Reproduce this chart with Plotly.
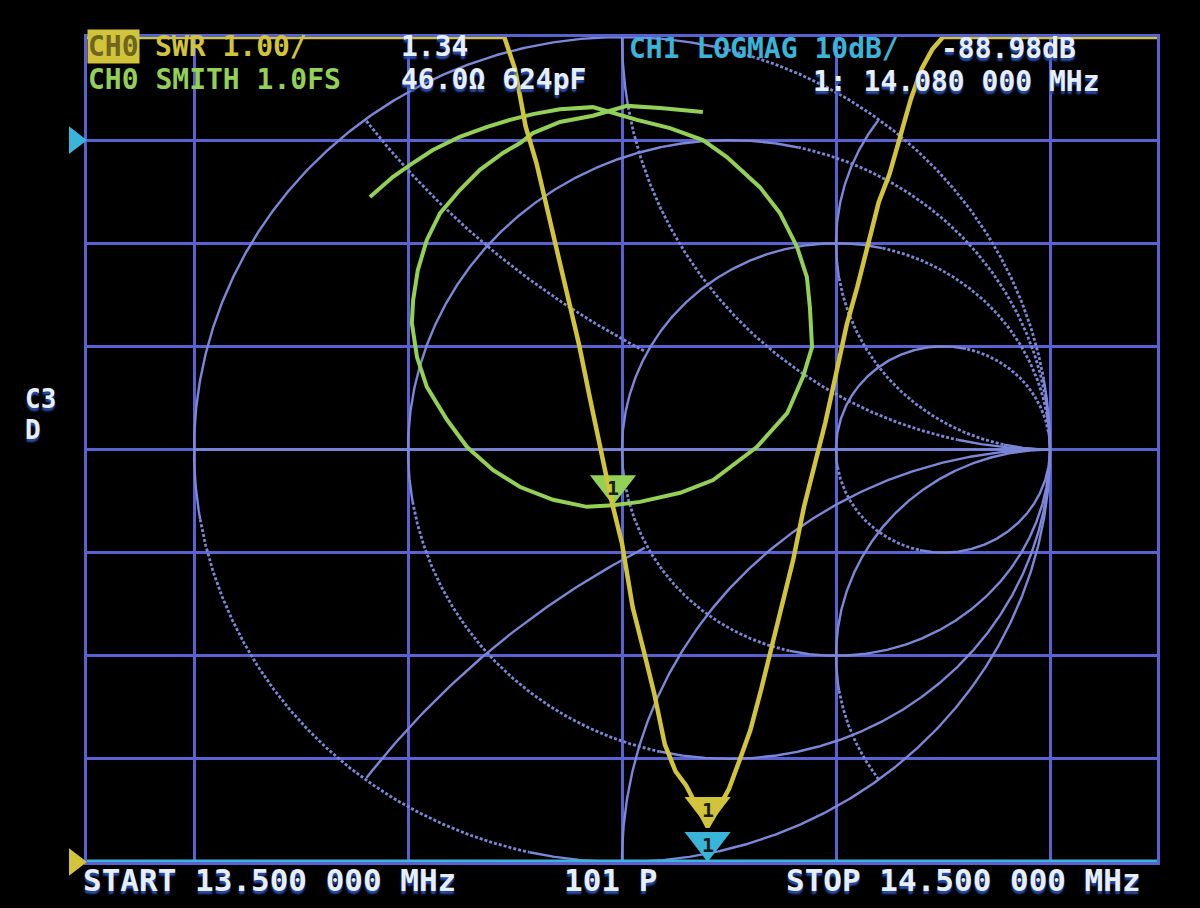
import numpy as np
import plotly.graph_objects as go

# ---------------- data ----------------
# CH0 SWR trace (1.00 / div, bottom = 1.0, top = 9.0, values >= 9 sit on the top edge)
swr_freq_mhz = [13.50, 13.89, 13.90, 13.91, 13.92, 13.93, 13.94, 13.95, 13.96, 13.97,
                13.98, 13.99, 14.00, 14.01, 14.02, 14.03, 14.04, 14.05, 14.06, 14.07,
                14.08, 14.09, 14.10, 14.11, 14.12, 14.13, 14.14, 14.15, 14.16, 14.17,
                14.18, 14.19, 14.20, 14.21, 14.22, 14.23, 14.24, 14.25, 14.26, 14.27,
                14.28, 14.29, 14.30, 14.50]
swr_value = [9.00, 9.00, 8.69, 8.13, 7.78, 7.33, 6.90, 6.46, 6.01, 5.50,
             5.00, 4.51, 4.09, 3.47, 3.06, 2.64, 2.14, 1.88, 1.74, 1.54,
             1.34, 1.52, 1.71, 1.99, 2.28, 2.67, 3.09, 3.50, 3.93, 4.44,
             4.85, 5.26, 5.73, 6.21, 6.58, 6.98, 7.40, 7.67, 8.02, 8.40,
             8.69, 8.88, 9.00, 9.00]

# CH0 SMITH trace, reflection coefficient (real, imaginary)
smith_re = [-0.589, -0.535, -0.495, -0.442, -0.379, -0.315, -0.262, -0.208, -0.145, -0.068,
            0.035, 0.112, 0.189, 0.245, 0.322, 0.369, 0.409, 0.432, 0.439, 0.444,
            0.423, 0.386, 0.315, 0.213, 0.136, 0.042, -0.021, -0.082, -0.161, -0.238,
            -0.301, -0.362, -0.409, -0.456, -0.479, -0.491, -0.488, -0.477, -0.456, -0.425,
            -0.379, -0.332, -0.278, -0.238, -0.208, -0.145, -0.068, 0.012, 0.089, 0.189]
smith_im = [0.612, 0.661, 0.690, 0.726, 0.758, 0.782, 0.799, 0.813, 0.825, 0.830,
            0.799, 0.779, 0.750, 0.709, 0.636, 0.573, 0.491, 0.418, 0.345, 0.248,
            0.176, 0.088, 0.006, -0.074, -0.105, -0.127, -0.135, -0.139, -0.122, -0.091,
            -0.050, 0.006, 0.072, 0.152, 0.224, 0.307, 0.362, 0.435, 0.508, 0.573,
            0.629, 0.678, 0.719, 0.743, 0.767, 0.794, 0.809, 0.833, 0.828, 0.818]
smith_marker_index = 26

# CH1 LOGMAG trace (10 dB / div, ref 0 dB at 7th division) - pinned at the bottom edge
ch1_freq_mhz = [13.50, 14.50]
ch1_logmag_db = [-70.0, -70.0]

marker_freq_mhz = 14.08
marker_swr = 1.34
marker_ch1_db = -88.98

grid_freq_mhz = [13.6, 13.8, 14.0, 14.2, 14.4]

# text
txt_ch0a = "SWR 1.00/"
txt_ch0a_val = "1.34"
txt_ch0b = "CH0 SMITH 1.0FS"
txt_ch0b_val = "46.0Ω 624pF"
txt_ch1 = "CH1 LOGMAG 10dB/"
txt_ch1_val = "-88.98dB"
txt_mk = "1: 14.080 000 MHz"
txt_start = "START 13.500 000 MHz"
txt_points = "101 P"
txt_stop = "STOP 14.500 000 MHz"

# ---------------- styles ----------------
W, H = 1200, 908
L, R, T, B = 87, 43, 37, 46
GRID = "#5862d0"
SMITH = "#7c87d8"
YEL = "#d2c43a"
GRN = "#92d056"
CYA = "#3ab4d8"
WHT = "#e6eef8"
FONT = "DejaVu Sans Mono"
PX_X, PX_Y = 428.0, 412.5   # pixels per unit of reflection coefficient (screen aspect)

fig = go.Figure()

# empty main subplot (carries the rectangular grid)
fig.add_trace(go.Scatter(x=[], y=[], xaxis="x", yaxis="y", hoverinfo="skip"))

# ---- Smith chart grid (geometry of the chart itself) ----
def circle(cx, cy, rad, keep=None, n=1441):
    t = np.linspace(0, 2 * np.pi, n)
    xs = cx + rad * np.cos(t)
    ys = cy + rad * np.sin(t)
    if keep is not None:
        m = keep(xs, ys)
        xs = np.where(m, xs, np.nan)
        ys = np.where(m, ys, np.nan)
    return xs, ys

inside = lambda x, y: x ** 2 + y ** 2 <= 1.0 + 1e-9
out_r1 = lambda x, y: (x - 0.5) ** 2 + y ** 2 >= 0.5 ** 2 - 1e-9

curves = [circle(0, 0, 1), circle(0.75, 0, 0.25), circle(0.5, 0, 0.5), circle(0.25, 0, 0.75)]
for s in (1, -1):
    curves += [circle(1, s * 0.5, 0.5, inside),
               circle(1, s * 1.0, 1.0, inside),
               circle(1, s * 2.0, 2.0, lambda x, y: inside(x, y) & out_r1(x, y))]

# the LCD photo shows falling ("\") strokes broken into dots, rising ones solid
solid_x, solid_y, dot_x, dot_y = [-1, 1, None], [0, 0, None], [], []
def push(bx, by, x0, y0, x1, y1):
    if bx and bx[-1] is not None and bx[-1] == x0 and by[-1] == y0:
        bx.append(x1); by.append(y1)
    else:
        bx += [None, x0, x1]; by += [None, y0, y1]

for xs, ys in curves:
    for i in range(len(xs) - 1):
        x0, y0, x1, y1 = xs[i], ys[i], xs[i + 1], ys[i + 1]
        if np.isnan([x0, y0, x1, y1]).any():
            continue
        dx, dy = (x1 - x0) * PX_X, (y1 - y0) * PX_Y
        ang = np.degrees(np.arctan2(abs(dy), abs(dx)))
        falling = dx * dy < 0 and 12 < ang < 80
        if falling:
            push(dot_x, dot_y, float(x0), float(y0), float(x1), float(y1))
        else:
            push(solid_x, solid_y, float(x0), float(y0), float(x1), float(y1))

fig.add_trace(go.Scatter(x=solid_x, y=solid_y, xaxis="x2", yaxis="y2", mode="lines",
                         line=dict(color=SMITH, width=2.4), cliponaxis=False,
                         hoverinfo="skip", connectgaps=False))
fig.add_trace(go.Scatter(x=dot_x, y=dot_y, xaxis="x2", yaxis="y2", mode="lines",
                         line=dict(color=SMITH, width=2.8, dash="3px,2px"), cliponaxis=False,
                         hoverinfo="skip", connectgaps=False))

# ---- CH0 Smith trace ----
fig.add_trace(go.Scatter(x=smith_re, y=smith_im, xaxis="x2", yaxis="y2", mode="lines",
                         line=dict(color=GRN, width=4), cliponaxis=False, hoverinfo="skip"))

# ---- CH1 logmag trace ----
fig.add_trace(go.Scatter(x=ch1_freq_mhz, y=ch1_logmag_db, xaxis="x3", yaxis="y3", mode="lines",
                         line=dict(color=CYA, width=5), cliponaxis=False, hoverinfo="skip"))

# ---- CH0 SWR trace ----
fig.add_trace(go.Scatter(x=swr_freq_mhz, y=swr_value, xaxis="x4", yaxis="y4", mode="lines",
                         line=dict(color=YEL, width=4.5), cliponaxis=False, hoverinfo="skip"))

# ---- markers ----
MS = 40
def mk(x, y, xa, ya, color):
    fig.add_trace(go.Scatter(x=[x], y=[y], xaxis=xa, yaxis=ya, mode="markers",
                             marker=dict(symbol="triangle-up", angle=180, standoff=MS / 2,
                                         size=MS, color=color, line=dict(width=0)),
                             cliponaxis=False, hoverinfo="skip"))

ch1_floor = max(marker_ch1_db, -70.0)
mk(smith_re[smith_marker_index], smith_im[smith_marker_index], "x2", "y2", GRN)
mk(marker_freq_mhz, ch1_floor, "x3", "y3", CYA)
mk(marker_freq_mhz, marker_swr, "x4", "y4", YEL)

# reference-position markers on the left edge
RS = 24
fig.add_trace(go.Scatter(x=[ch1_freq_mhz[0]], y=[0.0], xaxis="x3", yaxis="y3", mode="markers",
                         marker=dict(symbol="triangle-up", angle=90, standoff=RS / 2, size=RS,
                                     color=CYA, line=dict(width=0)),
                         cliponaxis=False, hoverinfo="skip"))
fig.add_trace(go.Scatter(x=[swr_freq_mhz[0]], y=[1.0], xaxis="x4", yaxis="y4", mode="markers",
                         marker=dict(symbol="triangle-up", angle=90, standoff=RS / 2, size=RS,
                                     color=YEL, line=dict(width=0)),
                         cliponaxis=False, hoverinfo="skip"))

annotations = []
def mk_label(x, y, xa, ya):
    annotations.append(dict(x=x, y=y, xref=xa, yref=ya, text="<b>1</b>", showarrow=False,
                            yshift=MS * 0.42, font=dict(family=FONT, size=20, color="#1a1a10")))
mk_label(smith_re[smith_marker_index], smith_im[smith_marker_index], "x2", "y2")
mk_label(marker_freq_mhz, ch1_floor, "x3", "y3")
mk_label(marker_freq_mhz, marker_swr, "x4", "y4")

# ---- screen texts (positions in pixels -> paper) ----
def txt(px, py, s, color, bg=None, shadow=True, size=28):
    d = dict(x=(px - L) / (W - L - R), y=(H - B - py) / (H - T - B), xref="paper", yref="paper",
             xanchor="left", yanchor="middle", text=s, showarrow=False, borderpad=0,
             font=dict(family=FONT, size=size, color=color, weight="bold",
                       shadow="0px 3px 2px #2b4fb0" if shadow else "none"))
    if bg:
        d["bgcolor"] = bg
    annotations.append(d)

CW = 0.602 * 28
txt(87, 47, "CH0", "#6d6520", bg=YEL, shadow=False)
txt(87 + 4 * CW, 47, txt_ch0a, YEL, shadow=False)
txt(400, 47, txt_ch0a_val, WHT)
txt(87, 79, txt_ch0b, GRN, shadow=False)
txt(400, 79, txt_ch0b_val, WHT)
txt(628, 49, txt_ch1, CYA, shadow=False)
txt(940, 49, txt_ch1_val, WHT)
txt(812, 81, txt_mk, WHT)
txt(82, 880, txt_start, WHT, size=31)
txt(563, 880, txt_points, WHT, size=31)
txt(785, 880, txt_stop, WHT, size=31)
txt(24, 399, "C3", WHT, size=26)
txt(24, 430, "D", WHT, size=26)

axis_common = dict(showgrid=True, gridcolor=GRID, gridwidth=3, showticklabels=False, ticks="",
                   zeroline=False, showline=True, linecolor=GRID, linewidth=3, mirror=True,
                   fixedrange=True, layer="below traces")
hidden = dict(visible=False, fixedrange=True, showgrid=False, zeroline=False)

fig.update_layout(
    width=W, height=H, autosize=False,
    margin=dict(l=L, r=R, t=T, b=B, pad=0),
    paper_bgcolor="black", plot_bgcolor="black", showlegend=False,
    xaxis=dict(range=[swr_freq_mhz[0], swr_freq_mhz[-1]], tickmode="array", tickvals=grid_freq_mhz,
               **axis_common),
    yaxis=dict(range=[1, 9], tickmode="linear", tick0=1, dtick=1, **axis_common),
    xaxis2=dict(overlaying="x", anchor="y2", range=[-1.25, 1.25], **hidden),
    yaxis2=dict(overlaying="y", anchor="x2", range=[-1, 1], **hidden),
    xaxis3=dict(overlaying="x", anchor="y3", range=[swr_freq_mhz[0], swr_freq_mhz[-1]], **hidden),
    yaxis3=dict(overlaying="y", anchor="x3", range=[-70, 10], **hidden),
    xaxis4=dict(overlaying="x", anchor="y4", range=[swr_freq_mhz[0], swr_freq_mhz[-1]], **hidden),
    yaxis4=dict(overlaying="y", anchor="x4", range=[1, 9], **hidden),
    annotations=annotations,
    hovermode=False,
)

fig.write_html("out.html", config={"displayModeBar": False},
               post_script="document.body.style.margin='0';document.body.style.background='black';")
